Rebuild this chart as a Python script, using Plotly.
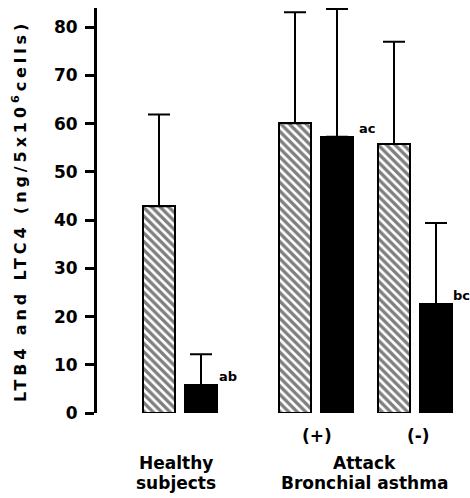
import plotly.graph_objects as go

# ---- data ----
groups = ["Healthy subjects", "Attack (+)", "Attack (-)"]
ltb4 = [42.9, 60.1, 55.8]          # hatched bars
ltb4_sd = [19.0, 23.0, 21.2]
ltc4 = [5.8, 57.3, 22.6]           # black bars
ltc4_sd = [6.4, 26.5, 16.8]
marks = ["ab", "ac", "bc"]
yticks = [0, 10, 20, 30, 40, 50, 60, 70, 80]

# ---- layout helpers (pixel-like x axis) ----
hatch_x = [159, 295, 394]
black_x = [201, 337, 436]
bar_w = 32

FONT = "DejaVu Sans"

fig = go.Figure()
fig.add_trace(go.Bar(
    x=hatch_x, y=ltb4, width=bar_w,
    marker=dict(color="white", line=dict(color="black", width=2),
                pattern=dict(shape="\\", fgcolor="black", bgcolor="white",
                             size=6, solidity=0.55)),
    error_y=dict(type="data", symmetric=False, array=ltb4_sd,
                 arrayminus=[0, 0, 0], color="black", thickness=2, width=11),
    showlegend=False,
))
fig.add_trace(go.Bar(
    x=black_x, y=ltc4, width=bar_w,
    marker=dict(color="black", line=dict(color="black", width=2)),
    error_y=dict(type="data", symmetric=False, array=ltc4_sd,
                 arrayminus=[0, 0, 0], color="black", thickness=2, width=11),
    showlegend=False,
))

# significance marks
mark_dx = [16, 20, 15]
for xb, v, m, dx in zip(black_x, ltc4, marks, mark_dx):
    fig.add_annotation(x=xb + dx, y=v + 1.8, xref="x", yref="y", text=f"<b>{m}</b>",
                       xanchor="left", yanchor="middle", showarrow=False,
                       font=dict(family=FONT, size=13, color="black"))

# group labels
def lab(x, ypx, text, size=17):
    fig.add_annotation(x=x, y=(413 - ypx) / 405, xref="x", yref="paper",
                       text=f"<b>{text}</b>", showarrow=False,
                       xanchor="center", yanchor="middle",
                       font=dict(family=FONT, size=size, color="black"))

lab(317, 436, "(+)")
lab(418, 436, "(-)")
lab(176, 463, groups[0].split()[0])
lab(176, 483, groups[0].split()[1])
lab(364, 463, "Attack")
lab(364, 483, "Bronchial asthma")

# y title
fig.add_annotation(x=(20 - 97) / 373, y=0.4975, xref="paper", yref="paper",
                   text="<b>LTB4 and LTC4 (ng/5x10<sup>6</sup>cells)</b>",
                   textangle=-90, showarrow=False,
                   xanchor="center", yanchor="middle",
                   font=dict(family=FONT, size=16, color="black"))

fig.update_layout(
    width=470, height=498,
    margin=dict(l=97, r=0, t=8, b=85),
    paper_bgcolor="white", plot_bgcolor="white",
    bargap=0,
    xaxis=dict(range=[97, 470], visible=False, fixedrange=True),
    yaxis=dict(range=[0, 84], tickvals=yticks, showgrid=False, zeroline=False,
               showline=True, linecolor="black", linewidth=3,
               ticks="outside", ticklen=9, tickwidth=3, tickcolor="black",
               ticklabelstandoff=4,
               tickfont=dict(family=FONT, size=17, color="black", weight="bold")),
)

post = """
document.body.style.margin = '0';
document.body.style.overflow = 'hidden';
var gd = document.getElementById('{plot_id}');
gd.querySelectorAll('.annotation-text').forEach(function(t){
  if (t.textContent.indexOf('LTB4') === 0) { t.style.letterSpacing = '3.9px'; }
});
"""
fig.write_html("out.html", post_script=post, config={"displayModeBar": False})
